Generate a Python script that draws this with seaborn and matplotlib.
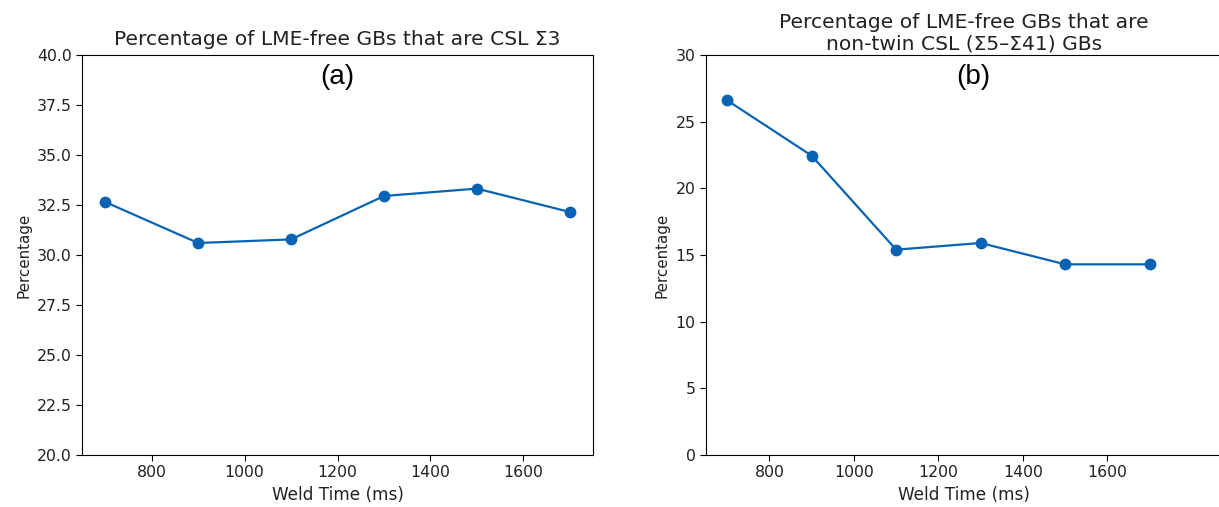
import matplotlib
matplotlib.use("Agg")
import matplotlib.pyplot as plt
import seaborn as sns
import pandas as pd

weld_time = [700, 900, 1100, 1300, 1500, 1700]
pct_sigma3 = [32.65, 30.6, 30.78, 32.95, 33.32, 32.15]
pct_nontwin = [26.6, 22.45, 15.4, 15.9, 14.3, 14.3]

title_a = "Percentage of LME-free GBs that are CSL Σ3"
title_b = "Percentage of LME-free GBs that are\nnon-twin CSL (Σ5–Σ41) GBs"
xlabel = "Weld Time (ms)"
ylabel = "Percentage"
line_color = "#0863b5"

W, H = 1219, 507
fig = plt.figure(figsize=(W / 100, H / 100), dpi=100)

def px_axes(x0, y0, x1, y1):
    return fig.add_axes([x0 / W, 1 - y1 / H, (x1 - x0) / W, (y1 - y0) / H])

ax1 = px_axes(82, 55, 593, 455)
ax2 = px_axes(706, 55, 1222, 455)

df = pd.DataFrame({"t": weld_time, "a": pct_sigma3, "b": pct_nontwin})

for ax, col in [(ax1, "a"), (ax2, "b")]:
    sns.lineplot(data=df, x="t", y=col, ax=ax, color=line_color, marker="o",
                 markersize=8.5, markeredgewidth=0, linewidth=1.6)
    ax.set_xlabel(xlabel, fontsize=12.2, color="#222222")
    ax.set_ylabel(ylabel, fontsize=10.9, color="#222222")
    ax.tick_params(labelsize=11.3, length=4, labelcolor="#222222")
    ax.set_xticks([800, 1000, 1200, 1400, 1600])

ax1.set_xlim(650, 1750)
ax1.set_ylim(20, 40)
ax1.set_yticks([20, 22.5, 25, 27.5, 30, 32.5, 35, 37.5, 40])
ax1.set_yticklabels(["20.0", "22.5", "25.0", "27.5", "30.0", "32.5", "35.0", "37.5", "40.0"])
ax1.set_title(title_a, fontsize=14.6, pad=7, color="#222222")

ax2.set_xlim(650, 1871)
ax2.set_ylim(0, 30)
ax2.set_yticks([0, 5, 10, 15, 20, 25, 30])
ax2.set_title(title_b, fontsize=14.6, pad=4, linespacing=1.15, color="#222222")
ax2.spines["right"].set_visible(False)

fig.text(337 / W, 1 - 77 / H, "(a)", fontsize=20, family="Liberation Sans",
         ha="center", va="center")
fig.text(973 / W, 1 - 77 / H, "(b)", fontsize=20, family="Liberation Sans",
         ha="center", va="center")

fig.savefig("out.png", dpi=100)
